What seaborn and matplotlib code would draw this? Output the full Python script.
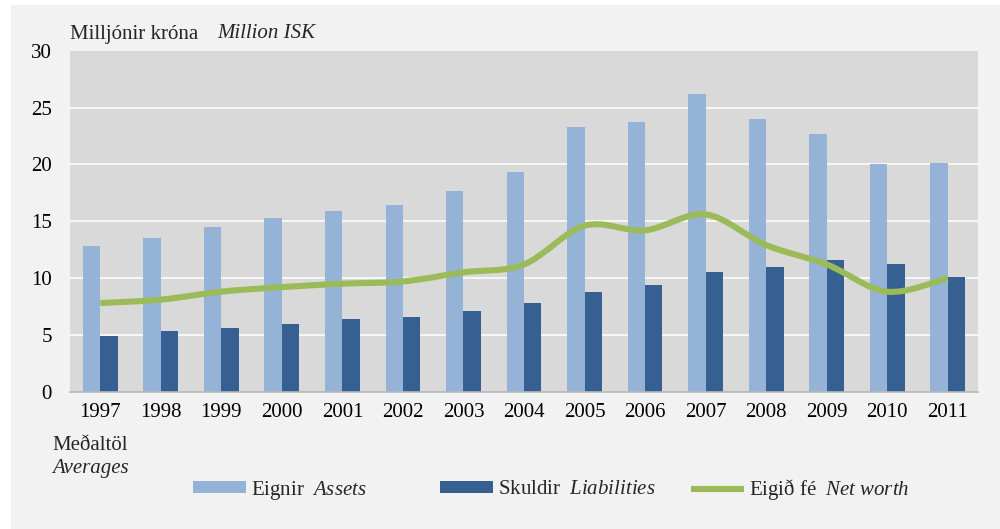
import numpy as np
import pandas as pd
import matplotlib
matplotlib.use("Agg")
import matplotlib.pyplot as plt
import seaborn as sns
from matplotlib.patches import Rectangle, Patch, PathPatch
from matplotlib.lines import Line2D
from matplotlib.path import Path

# ---- data ----
years = ["1997", "1998", "1999", "2000", "2001", "2002", "2003", "2004",
         "2005", "2006", "2007", "2008", "2009", "2010", "2011"]
assets = [12.8, 13.5, 14.5, 15.3, 15.9, 16.4, 17.7, 19.3,
          23.3, 23.7, 26.2, 24.0, 22.7, 20.0, 20.1]
liabilities = [4.9, 5.3, 5.6, 6.0, 6.4, 6.6, 7.1, 7.8,
               8.8, 9.4, 10.5, 11.0, 11.6, 11.2, 10.1]
net_worth = [7.8, 8.1, 8.8, 9.2, 9.5, 9.7, 10.5, 11.2,
             14.6, 14.2, 15.6, 12.9, 11.2, 8.8, 10.0]
series_names = ["Eignir", "Skuldir"]
yticks = [0, 5, 10, 15, 20, 25, 30]

# ---- style ----
sns.set_theme(style="white")
plt.rcParams["font.family"] = ["Liberation Serif", "DejaVu Serif"]
plt.rcParams["mathtext.fontset"] = "custom"
plt.rcParams["mathtext.rm"] = "Liberation Serif"
plt.rcParams["mathtext.it"] = "Liberation Serif:italic"

C_ASSETS = "#95b3d7"
C_LIAB = "#376092"
C_NET = "#9bbb59"
FS = 15

W, H = 1000, 529
fig = plt.figure(figsize=(W / 100, H / 100), dpi=100)
fig.patch.set_facecolor("white")
fig.patches.append(Rectangle((11 / W, 0), 1 - 11 / W, 1 - 5 / H,
                             transform=fig.transFigure, facecolor="#f2f2f2",
                             edgecolor="none", zorder=-10))

ax = fig.add_axes([70 / W, 1 - 391.7 / H, 908 / W, (391.7 - 50.7) / H])
ax.set_facecolor("#d9d9d9")

df = pd.DataFrame({
    "year": years * 2,
    "series": [series_names[0]] * len(years) + [series_names[1]] * len(years),
    "value": assets + liabilities,
})
sns.barplot(data=df, x="year", y="value", hue="series", order=years,
            hue_order=series_names, palette=[C_ASSETS, C_LIAB], saturation=1,
            width=0.575, gap=0, ax=ax, legend=False, zorder=2,
            edgecolor="none", linewidth=0)

# smoothed net-worth line (Catmull-Rom Bezier through data points)
xs = np.arange(len(years), dtype=float)
ys = np.array(net_worth, dtype=float)
verts = [(xs[0], ys[0])]
codes = [Path.MOVETO]
n = len(xs)
for i in range(n - 1):
    p0 = np.array([xs[max(i - 1, 0)], ys[max(i - 1, 0)]])
    p1 = np.array([xs[i], ys[i]])
    p2 = np.array([xs[i + 1], ys[i + 1]])
    p3 = np.array([xs[min(i + 2, n - 1)], ys[min(i + 2, n - 1)]])
    c1 = p1 + (p2 - p0) / 6.0
    c2 = p2 - (p3 - p1) / 6.0
    verts += [tuple(c1), tuple(c2), tuple(p2)]
    codes += [Path.CURVE4] * 3
ax.add_patch(PathPatch(Path(verts, codes), facecolor="none", edgecolor=C_NET,
                       linewidth=4.4, capstyle="butt", joinstyle="round", zorder=3))

ax.set_xlim(-0.5, len(years) - 0.5)
ax.set_ylim(0, 30)
ax.set_yticks(yticks)
ax.set_xlabel("")
ax.set_ylabel("")
ax.yaxis.grid(True, color="white", linewidth=1.1)
ax.xaxis.grid(False)
ax.set_axisbelow(True)
for gl, t in zip(ax.get_ygridlines(), yticks):
    if t in (0, 30):
        gl.set_visible(False)
for s in ["top", "right", "left"]:
    ax.spines[s].set_visible(False)
ax.spines["bottom"].set_color("#b7b7b7")
ax.spines["bottom"].set_linewidth(1.2)
ax.spines["bottom"].set_zorder(4)
ax.tick_params(axis="both", length=0, labelsize=FS, colors="black")
ax.tick_params(axis="x", pad=8)
ax.tick_params(axis="y", pad=13)

# texts
fig.text(70 / W, 1 - 34 / H, "Milljónir króna", fontsize=FS, va="center", ha="left")
fig.text(217 / W, 1 - 34 / H, "Million ISK", fontsize=FS, va="center", ha="left",
         style="italic")
fig.text(52 / W, 1 - 445 / H, "Meðaltöl", fontsize=FS, va="center", ha="left")
fig.text(52 / W, 1 - 469 / H, "Averages", fontsize=FS, va="center", ha="left",
         style="italic")

# legend: three entries placed at the reference positions
entries = [
    (Patch(facecolor=C_ASSETS, edgecolor="none"),
     r"$\mathrm{Eignir\ \ }\mathit{Assets}$", 193),
    (Patch(facecolor=C_LIAB, edgecolor="none"),
     r"$\mathrm{Skuldir\ \ }\mathit{Liabilities}$", 440),
    (Line2D([], [], color=C_NET, linewidth=4.4, solid_capstyle="butt"),
     r"$\mathrm{Eigið\ fé\ \ }\mathit{Net\ worth}$", 691),
]
for h, lab, x0 in entries:
    fig.legend([h], [lab], loc="center left", bbox_to_anchor=(x0 / W, 1 - 490 / H),
               frameon=False, fontsize=FS, handlelength=2.55,
               handleheight=0.52, handletextpad=0.25,
               borderpad=0, borderaxespad=0)

fig.savefig("out.png", dpi=100, facecolor=fig.get_facecolor())
